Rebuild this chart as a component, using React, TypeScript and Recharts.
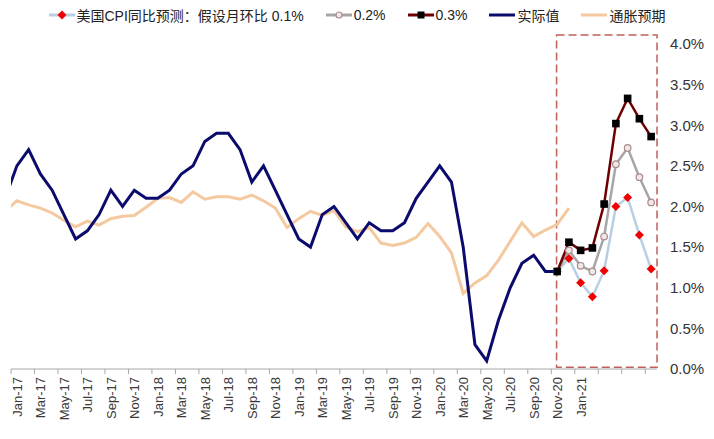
import { LineChart, Line, XAxis, YAxis, ReferenceArea } from "recharts";

// month index 0 = Jan-17; series start at Dec-16 (index -1), clipped by the plot edge
const tickLabels = [
  "Jan-17", "Mar-17", "May-17", "Jul-17", "Sep-17", "Nov-17",
  "Jan-18", "Mar-18", "May-18", "Jul-18", "Sep-18", "Nov-18",
  "Jan-19", "Mar-19", "May-19", "Jul-19", "Sep-19", "Nov-19",
  "Jan-20", "Mar-20", "May-20", "Jul-20", "Sep-20", "Nov-20",
  "Jan-21",
];

// 实际值, Dec-16 .. Nov-20
const actual = [
  2.1,
  2.5, 2.7, 2.4, 2.2, 1.9, 1.6, 1.7, 1.9, 2.2, 2.0, 2.2, 2.1,
  2.1, 2.2, 2.4, 2.5, 2.8, 2.9, 2.9, 2.7, 2.3, 2.5, 2.2, 1.9,
  1.6, 1.5, 1.9, 2.0, 1.8, 1.6, 1.8, 1.7, 1.7, 1.8, 2.1, 2.3,
  2.5, 2.3, 1.5, 0.3, 0.1, 0.6, 1.0, 1.3, 1.4, 1.2, 1.2,
];

// 通胀预期, Dec-16 .. Dec-20
const expectation = [
  1.94,
  2.07, 2.02, 1.98, 1.92, 1.83, 1.75, 1.82, 1.77, 1.85, 1.88, 1.89, 1.99,
  2.1, 2.11, 2.05, 2.18, 2.09, 2.12, 2.12, 2.09, 2.14, 2.07, 1.98, 1.74,
  1.85, 1.94, 1.89, 1.95, 1.75, 1.69, 1.74, 1.55, 1.52, 1.55, 1.62, 1.79,
  1.63, 1.43, 0.93, 1.06, 1.15, 1.34, 1.57, 1.8, 1.63, 1.71, 1.78, 1.98,
];

// forecasts, Nov-20 .. Jul-21
const forecast01 = [1.2, 1.36, 1.06, 0.89, 1.21, 2.0, 2.11, 1.65, 1.23];
const forecast02 = [1.2, 1.46, 1.27, 1.2, 1.63, 2.52, 2.72, 2.36, 2.05];
const forecast03 = [1.2, 1.56, 1.46, 1.49, 2.03, 3.02, 3.33, 3.08, 2.86];

const yTicks = [0, 0.5, 1, 1.5, 2, 2.5, 3, 3.5, 4];

const FIRST = -1;
const FORECAST_START = 46;
const LAST = 54;

const data: any[] = [];
for (let i = FIRST; i <= LAST; i++) {
  const row: any = { idx: i };
  if (i - FIRST < actual.length) row.actual = actual[i - FIRST];
  if (i - FIRST < expectation.length) row.expectation = expectation[i - FIRST];
  const f = i - FORECAST_START;
  if (f >= 0) {
    row.f01 = forecast01[f];
    row.f02 = forecast02[f];
    row.f03 = forecast03[f];
  }
  data.push(row);
}

const xTicks: number[] = [];
for (let i = 0; i <= 48; i += 2) xTicks.push(i - 0.5, i);
for (let i = 49.5; i <= 53.5; i += 2) xTicks.push(i);

const FONT = '"Liberation Sans", "Noto Sans CJK SC", Arial, sans-serif';

const MonthTick = (props: any) => {
  const { x, y, payload } = props;
  const v = payload.value;
  if (!Number.isInteger(v)) {
    return <line x1={x} x2={x} y1={y} y2={y + 5} stroke="#a6a6a6" />;
  }
  return (
    <text
      x={x}
      y={y}
      dx={-8}
      dy="0.38em"
      transform={`rotate(-90 ${x} ${y})`}
      textAnchor="end"
      fontSize={13}
      fontFamily={FONT}
      fill="#3a3a3a"
    >
      {tickLabels[v / 2]}
    </text>
  );
};

const Diamond = ({ cx, cy, fill }: any) => (
  <polygon
    points={`${cx},${cy - 4.5} ${cx + 4.5},${cy} ${cx},${cy + 4.5} ${cx - 4.5},${cy}`}
    fill={fill}
  />
);

const dotOf = (shape: string) => (props: any) => {
  const { cx, cy, index, value } = props;
  if (cx == null || cy == null || value == null) return <g key={index} />;
  if (shape === "diamond") return <Diamond key={index} cx={cx} cy={cy} fill="#f00000" />;
  if (shape === "circle")
    return <circle key={index} cx={cx} cy={cy} r={3.3} fill="#f3e6e6" stroke="#a88c8c" strokeWidth={1.2} />;
  return <rect key={index} x={cx - 3.8} y={cy - 3.8} width={7.6} height={7.6} fill="#000" />;
};

const legendItems = [
  { name: "美国CPI同比预测：假设月环比 0.1%", line: "#b8cfe3", marker: "diamond" },
  { name: "0.2%", line: "#a6a6a6", marker: "circle" },
  { name: "0.3%", line: "#6e0000", marker: "square" },
  { name: "实际值", line: "#0b0b6e", marker: "" },
  { name: "通胀预期", line: "#f5c9a0", marker: "" },
];

const LegendIcon = ({ line, marker }: any) => (
  <svg width={26} height={12} style={{ marginRight: 2 }}>
    <line x1={0} x2={26} y1={6} y2={6} stroke={line} strokeWidth={3} />
    {marker === "diamond" && <Diamond cx={13} cy={6} fill="#f00000" />}
    {marker === "circle" && <circle cx={13} cy={6} r={3} fill="#f3e6e6" stroke="#a88c8c" strokeWidth={1.2} />}
    {marker === "square" && <rect x={9.5} y={2.5} width={7} height={7} fill="#000" />}
  </svg>
);

export default function App() {
  return (
    <div style={{ position: "absolute", left: 0, top: 0, width: 714, height: 439, background: "#fff" }}>
      <div
        style={{
          position: "absolute",
          left: 0,
          top: 5,
          width: 714,
          display: "flex",
          justifyContent: "center",
          alignItems: "center",
          fontFamily: FONT,
          fontSize: 14,
          color: "#222",
          gap: 22,
        }}
      >
        {legendItems.map((it) => (
          <div key={it.name} style={{ display: "flex", alignItems: "center" }}>
            <LegendIcon line={it.line} marker={it.marker} />
            <span>{it.name}</span>
          </div>
        ))}
      </div>
      <LineChart width={714} height={439} data={data} margin={{ top: 35, right: 0, bottom: 0, left: 11 }}>
        <XAxis
          dataKey="idx"
          type="number"
          domain={[-0.5, 54.5]}
          allowDataOverflow
          ticks={xTicks}
          interval={0}
          tick={<MonthTick />}
          tickLine={false}
          tickSize={0}
          tickMargin={0}
          height={70}
          axisLine={{ stroke: "#a6a6a6" }}
        />
        <YAxis
          orientation="right"
          domain={[0, 4.11]}
          allowDataOverflow
          ticks={yTicks}
          interval={0}
          width={57}
          axisLine={false}
          tickLine={false}
          tickSize={0}
          tickMargin={13}
          tickFormatter={(v: number) => v.toFixed(1) + "%"}
          tick={{ fontSize: 15, fontFamily: FONT, fill: "#333", textAnchor: "start" }}
        />
        <ReferenceArea
          x1={45.95}
          x2={54.5}
          y1={0.02}
          y2={4.11}
          fill="none"
          fillOpacity={0}
          stroke="#c0605c"
          strokeWidth={1.5}
          strokeDasharray="8 4"
          ifOverflow="visible"
        />
        <Line dataKey="expectation" stroke="#f5c9a0" strokeWidth={3} dot={false} activeDot={false} isAnimationActive={false} />
        <Line dataKey="actual" stroke="#0b0b6e" strokeWidth={3} dot={false} activeDot={false} isAnimationActive={false} />
        <Line dataKey="f01" stroke="#b8cfe3" strokeWidth={2.5} dot={dotOf("diamond")} activeDot={false} isAnimationActive={false} />
        <Line dataKey="f02" stroke="#a6a6a6" strokeWidth={2.5} dot={dotOf("circle")} activeDot={false} isAnimationActive={false} />
        <Line dataKey="f03" stroke="#6e0000" strokeWidth={2.5} dot={dotOf("square")} activeDot={false} isAnimationActive={false} />
      </LineChart>
    </div>
  );
}
